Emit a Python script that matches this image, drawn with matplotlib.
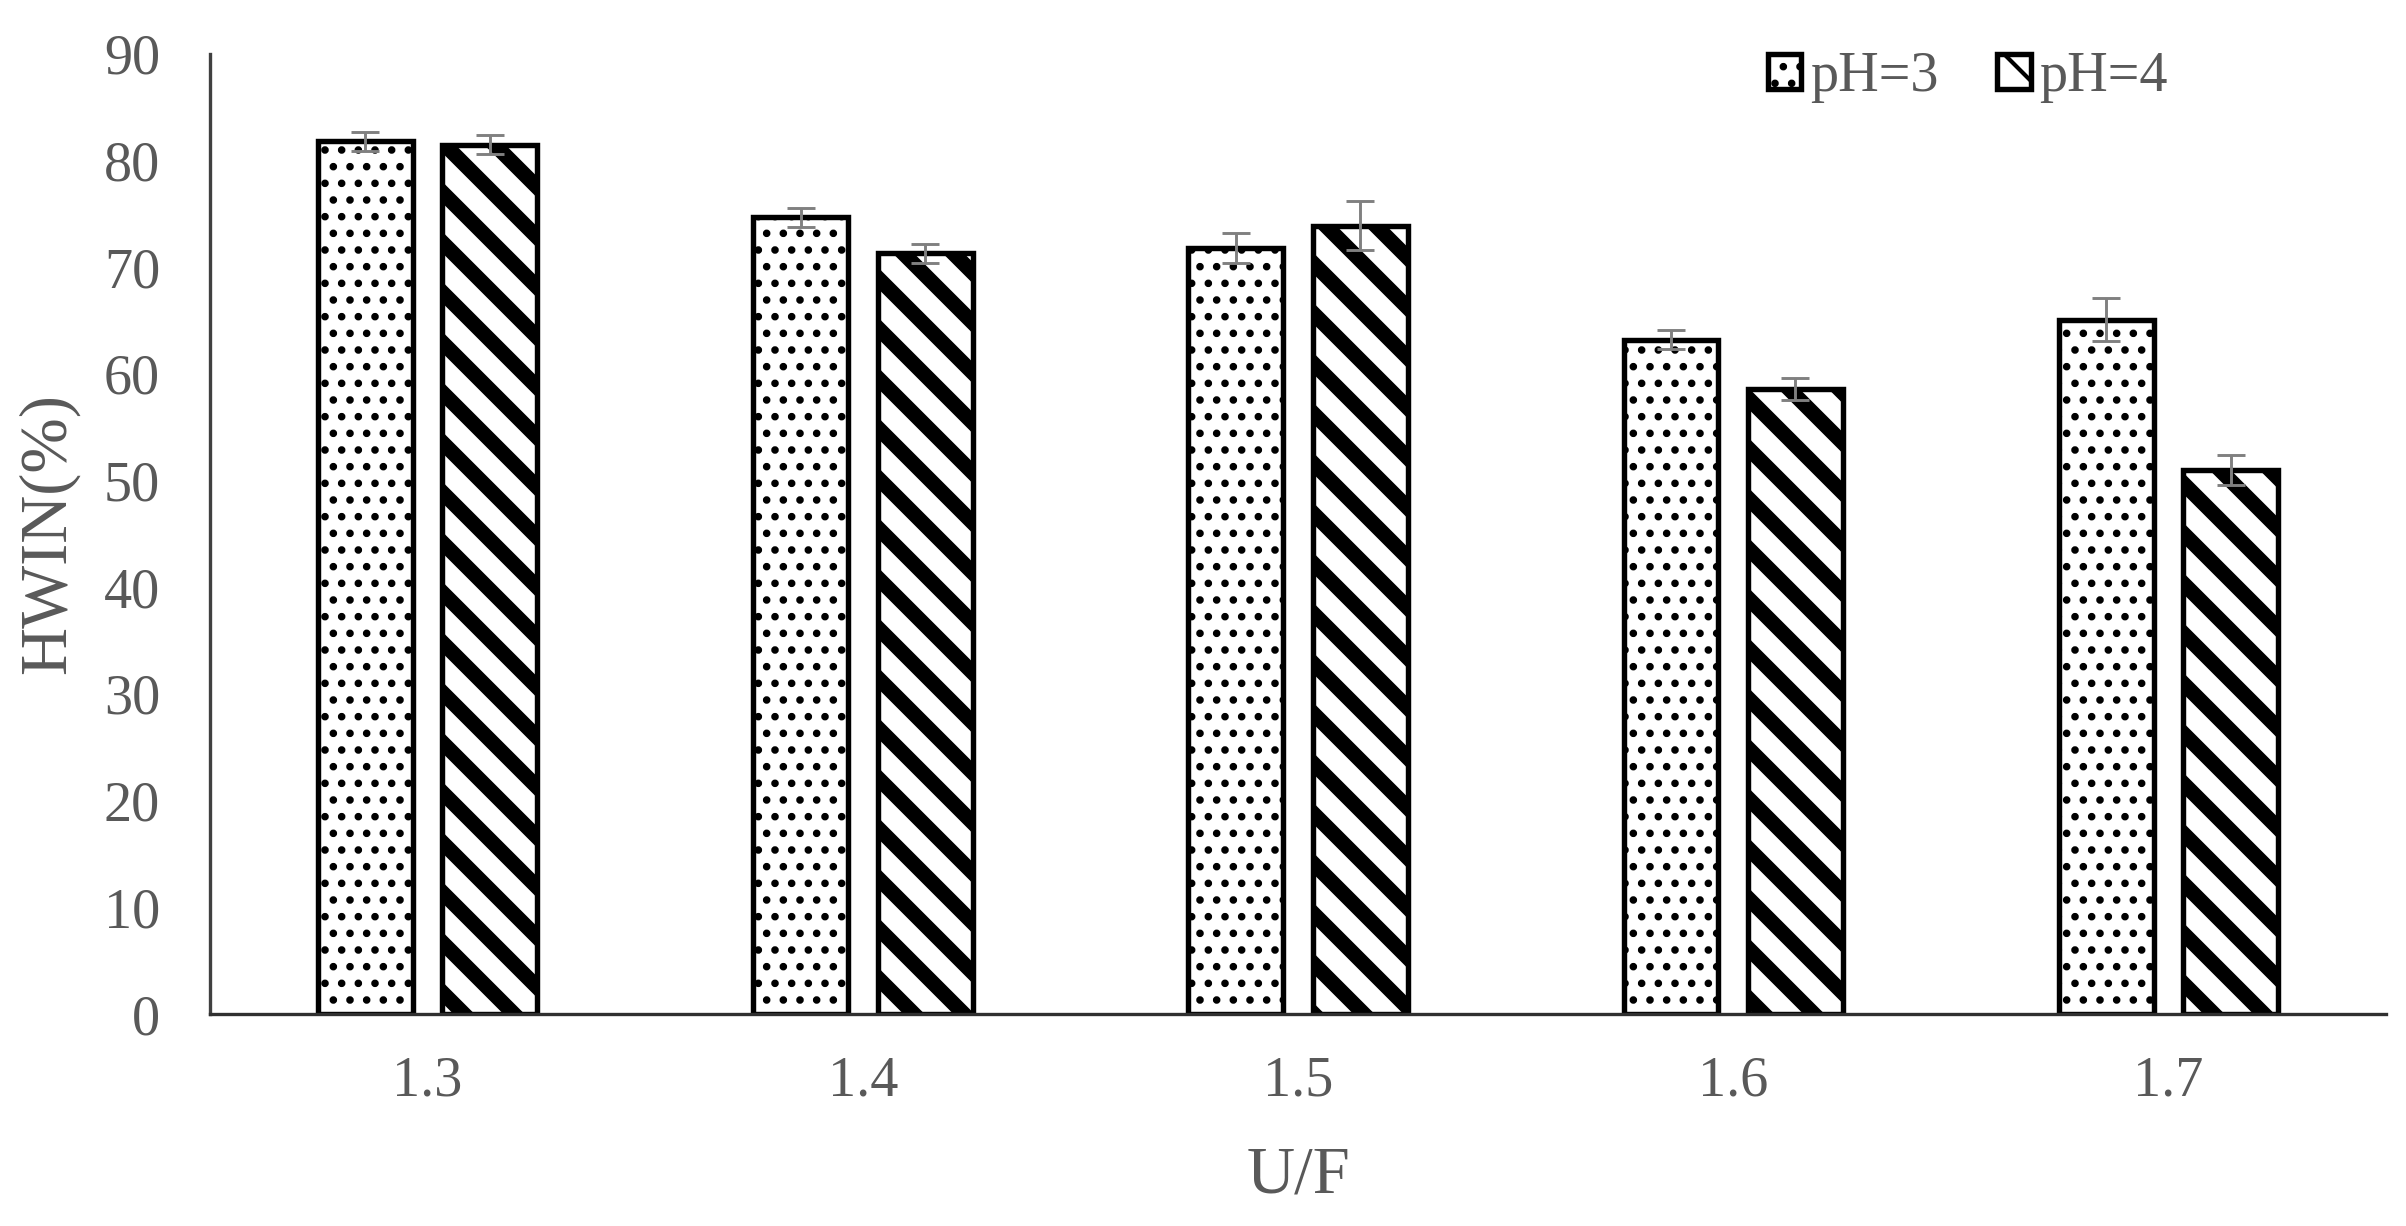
import numpy as np
import matplotlib
matplotlib.use("Agg")
import matplotlib.pyplot as plt

# values
uf = ['1.3', '1.4', '1.5', '1.6', '1.7']
hwin_ph3 = [81.8, 74.7, 71.8, 63.2, 65.1]
err_ph3 = [0.9, 0.9, 1.4, 0.9, 2.0]
hwin_ph4 = [81.5, 71.3, 73.9, 58.6, 51.0]
err_ph4 = [0.9, 0.9, 2.3, 1.0, 1.4]

plt.rcParams['font.family'] = ['Liberation Serif', 'DejaVu Serif']
txt_col = '#595959'

fig = plt.figure(figsize=(2406/300, 1226/300), dpi=300)
ax = fig.add_axes([0.0873, 0.1729, 0.9044, 0.7831])

x = np.arange(len(uf))
w = 0.218
off = 0.143

bars3 = ax.bar(x - off, hwin_ph3, w, facecolor='white', edgecolor='black',
               linewidth=1.3, hatch='...', label='pH=3', zorder=2)
bars4 = ax.bar(x + off, hwin_ph4, w, facecolor='white', edgecolor='black',
               linewidth=1.3, hatch='\\\\', label='pH=4', zorder=2)
for b in bars3:
    b.set_hatch_linewidth(1.0)
for b in bars4:
    b.set_hatch_linewidth(3.6)

ax.errorbar(x - off, hwin_ph3, yerr=err_ph3, fmt='none', ecolor='#808080',
            elinewidth=0.7, capsize=3.4, capthick=0.7, zorder=3)
ax.errorbar(x + off, hwin_ph4, yerr=err_ph4, fmt='none', ecolor='#808080',
            elinewidth=0.7, capsize=3.4, capthick=0.7, zorder=3)

ax.set_xlim(-0.5, len(uf) - 0.5)
ax.set_ylim(0, 90)
ax.set_yticks(np.arange(0, 91, 10))
ax.set_xticks(x)
ax.set_xticklabels(uf)
ax.tick_params(axis='both', length=0, labelsize=13.5, colors=txt_col)
ax.tick_params(axis='y', pad=12)
ax.tick_params(axis='x', pad=10)

for s in ['top', 'right']:
    ax.spines[s].set_visible(False)
ax.spines['left'].set_color('#404040')
ax.spines['bottom'].set_color('#303030')
ax.spines['left'].set_linewidth(0.8)
ax.spines['bottom'].set_linewidth(0.8)

ax.set_xlabel('U/F', fontsize=16, color=txt_col, labelpad=9)
ax.set_ylabel('HWIN(%)', fontsize=16, color=txt_col, labelpad=6)

leg = fig.legend(handles=[bars3, bars4], loc='center left',
                 bbox_to_anchor=(0.723, 0.937), ncol=2, frameon=False,
                 fontsize=13.5, handlelength=0.6, handleheight=0.6,
                 handletextpad=0.15, columnspacing=1.05, borderpad=0)
for t in leg.get_texts():
    t.set_color(txt_col)

fig.savefig('out.png', dpi=300)
